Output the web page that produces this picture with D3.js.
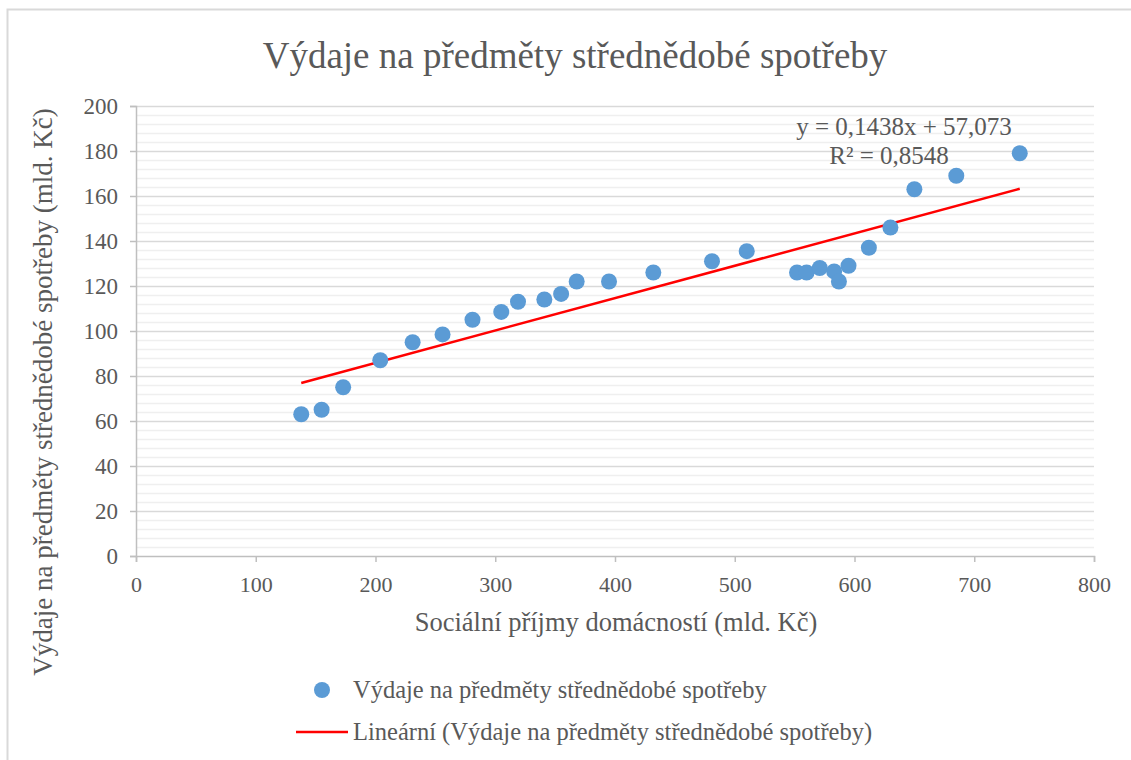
<!DOCTYPE html>
<html>
<head>
<meta charset="utf-8">
<script src="https://cdn.jsdelivr.net/npm/d3@7"></script>
<style>
  html, body { margin: 0; padding: 0; background: #fff; }
  svg { display: block; font-family: "Liberation Serif", "Times New Roman", serif; }
</style>
</head>
<body>
<svg id="chart" width="1131" height="760"></svg>
<script>
// ---- data ----
const socialIncome = [138, 155, 173, 204, 231, 256, 281, 305, 319, 341, 355, 368, 395, 432, 481, 510, 552, 560, 571, 583, 587, 595, 612, 630, 650, 685, 738];
const durableSpending = [63, 65, 75, 87, 95, 98.5, 105, 108.5, 113, 114, 116.5, 122, 122, 126, 131, 135.5, 126, 126, 128, 126.5, 122, 129, 137, 146, 163, 169, 179];
const xTicks = [0, 100, 200, 300, 400, 500, 600, 700, 800];
const yTicks = [0, 20, 40, 60, 80, 100, 120, 140, 160, 180, 200];
const trendSlope = 0.1438;
const trendIntercept = 57.073;
const titleText = "Výdaje na předměty střednědobé spotřeby";
const xTitle = "Sociální příjmy domácností (mld. Kč)";
const yTitle = "Výdaje na předměty střednědobé spotřeby (mld. Kč)";
const seriesName = "Výdaje na předměty střednědobé spotřeby";
const trendName = "Lineární (Výdaje na předměty střednědobé spotřeby)";
const equationLines = ["y = 0,1438x + 57,073", "R² = 0,8548"];

// ---- layout ----
const svg = d3.select("#chart");
const plot = { left: 136, right: 1094, top: 106, bottom: 556 };
const textColor = "#595959";

// chart border
svg.append("path")
  .attr("d", "M7.5,770 V9.5 H1140")
  .attr("fill", "none").attr("stroke", "#d9d9d9").attr("stroke-width", 2);

const x = d3.scaleLinear().domain([0, 800]).range([plot.left, plot.right]);
const y = d3.scaleLinear().domain([0, 200]).range([plot.bottom, plot.top]);

// minor gridlines
const minorTicks = d3.range(0, 201, 4).filter(v => v % 20 !== 0);
svg.append("g").selectAll("line").data(minorTicks).join("line")
  .attr("x1", plot.left).attr("x2", plot.right)
  .attr("y1", d => Math.round(y(d)) + 0.5).attr("y2", d => Math.round(y(d)) + 0.5)
  .attr("stroke", "#efefef").attr("stroke-width", 1.5);

// major gridlines
svg.append("g").selectAll("line").data(yTicks.filter(v => v > 0)).join("line")
  .attr("x1", plot.left).attr("x2", plot.right)
  .attr("y1", d => Math.round(y(d)) + 0.5).attr("y2", d => Math.round(y(d)) + 0.5)
  .attr("stroke", "#d9d9d9").attr("stroke-width", 1.5);

// axes
const xAxis = d3.axisBottom(x).tickValues(xTicks).tickSize(6).tickPadding(14);
const gx = svg.append("g").attr("transform", `translate(0,${plot.bottom})`).call(xAxis);
gx.select(".domain").attr("stroke", "#bfbfbf").attr("stroke-width", 1.5);
gx.selectAll(".tick line").attr("stroke", "#bfbfbf").attr("stroke-width", 1.5);
gx.selectAll(".tick text").attr("fill", textColor).attr("font-size", 22)
  .attr("font-family", "Liberation Serif");

const yAxis = d3.axisLeft(y).tickValues(yTicks).tickSize(6).tickPadding(12);
const gy = svg.append("g").attr("transform", `translate(${plot.left},0)`).call(yAxis);
gy.select(".domain").attr("stroke", "#bfbfbf").attr("stroke-width", 1.5);
gy.selectAll(".tick line").attr("stroke", "#bfbfbf").attr("stroke-width", 1.5);
gy.selectAll(".tick text").attr("fill", textColor).attr("font-size", 23)
  .attr("font-family", "Liberation Serif");

// trendline
const xMin = d3.min(socialIncome), xMax = d3.max(socialIncome);
svg.append("line")
  .attr("x1", x(xMin)).attr("y1", y(trendSlope * xMin + trendIntercept))
  .attr("x2", x(xMax)).attr("y2", y(trendSlope * xMax + trendIntercept))
  .attr("stroke", "#ff0000").attr("stroke-width", 2.5);

// points
const pts = socialIncome.map((v, i) => ({ x: v, y: durableSpending[i] }));
svg.append("g").selectAll("circle").data(pts).join("circle")
  .attr("cx", d => x(d.x)).attr("cy", d => y(d.y)).attr("r", 8)
  .attr("fill", "#5b9bd5");

// equation
svg.append("text").attr("x", 904).attr("y", 135).attr("text-anchor", "middle")
  .attr("fill", textColor).attr("font-size", 25).text(equationLines[0]);
svg.append("text").attr("x", 889).attr("y", 164).attr("text-anchor", "middle")
  .attr("fill", textColor).attr("font-size", 25).text(equationLines[1]);

// title
svg.append("text").attr("x", 575).attr("y", 68).attr("text-anchor", "middle")
  .attr("fill", textColor).attr("font-size", 37).text(titleText);

// axis titles
svg.append("text").attr("x", 616).attr("y", 631).attr("text-anchor", "middle")
  .attr("fill", textColor).attr("font-size", 26.5).text(xTitle);
svg.append("text").attr("transform", "translate(52,392) rotate(-90)").attr("text-anchor", "middle")
  .attr("fill", textColor).attr("font-size", 27).text(yTitle);

// legend
svg.append("circle").attr("cx", 322).attr("cy", 690).attr("r", 8).attr("fill", "#5b9bd5");
svg.append("text").attr("x", 353).attr("y", 698).attr("fill", textColor).attr("font-size", 24.5).text(seriesName);
svg.append("line").attr("x1", 296).attr("x2", 348).attr("y1", 732).attr("y2", 732)
  .attr("stroke", "#ff0000").attr("stroke-width", 2.5);
svg.append("text").attr("x", 353).attr("y", 740).attr("fill", textColor).attr("font-size", 24.5).text(trendName);
</script>
</body>
</html>
